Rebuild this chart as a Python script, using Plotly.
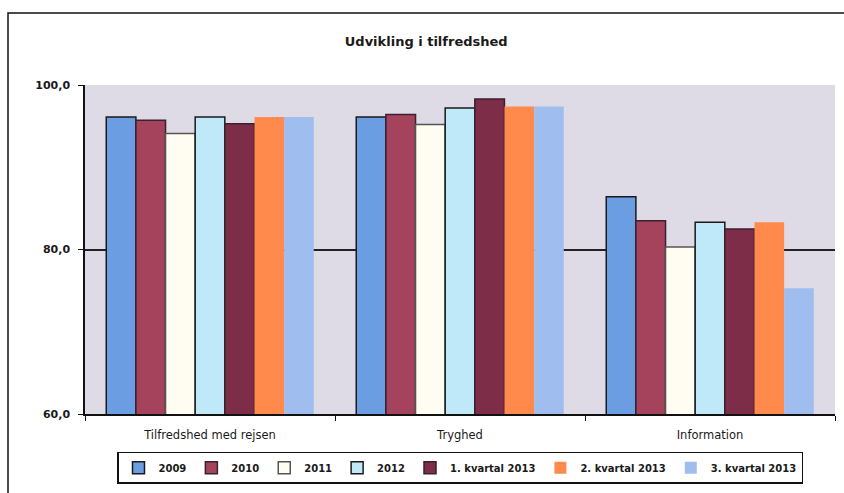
import plotly.graph_objects as go

categories = ["Tilfredshed med rejsen", "Tryghed", "Information"]
series_names = ["2009", "2010", "2011", "2012", "1. kvartal 2013", "2. kvartal 2013", "3. kvartal 2013"]
v2009 = [96.1, 96.1, 86.4]
v2010 = [95.7, 96.4, 83.5]
v2011 = [94.1, 95.2, 80.3]
v2012 = [96.1, 97.2, 83.3]
vq1 = [95.3, 98.3, 82.5]
vq2 = [96.1, 97.4, 83.3]
vq3 = [96.1, 97.4, 75.3]
values = [v2009, v2010, v2011, v2012, vq1, vq2, vq3]
colors = ["#6A9DE2", "#A5425C", "#FFFDF2", "#BFE8F8", "#7E2D48", "#FF8A4C", "#9FBDEE"]
outline = ["#1a1a1a", "#3a2030", "#555555", "#1a1a1a", "#3a2030", "rgba(0,0,0,0)", "rgba(0,0,0,0)"]

fig = go.Figure()
for name, vals, c, oc in zip(series_names, values, colors, outline):
    fig.add_trace(go.Bar(
        x=categories, y=vals, name=name,
        marker=dict(color=c, line=dict(color=oc, width=1.5)),
        base=0,
    ))

font = "DejaVu Sans, Verdana, sans-serif"
fig.update_layout(
    width=844, height=493,
    margin=dict(l=85, r=9, t=85, b=75),
    paper_bgcolor="white",
    plot_bgcolor="#DEDBE7",
    barmode="group",
    bargap=0.17,
    bargroupgap=0,
    separators=",.",
    font=dict(family=font, size=11, color="#1a1a1a"),
    title=dict(text="<b>Udvikling i tilfredshed</b>", x=0.505, xanchor="center",
               y=1 - 41 / 493, yanchor="middle", font=dict(size=13, family=font)),
    showlegend=True,
    legend=dict(orientation="h", x=0.5, xanchor="center", y=-0.115, yanchor="top",
                bordercolor="#111111", borderwidth=1.5, bgcolor="white",
                font=dict(size=10, family=font, weight="bold"), traceorder="normal",
                itemwidth=30, tracegroupgap=0),
    shapes=[dict(type="rect", xref="paper", yref="paper",
                 x0=(8 - 85) / 750, x1=1.05, y0=-0.4, y1=(418 - 12) / 333,
                 line=dict(color="#111111", width=1.5), fillcolor="rgba(0,0,0,0)", layer="below")],
)
fig.update_xaxes(showline=True, linecolor="#111111", linewidth=1.5, ticks="outside",
                 tickson="boundaries", ticklen=5, tickcolor="#111111",
                 ticklabelstandoff=9,
                 tickfont=dict(size=11.5, family=font), showgrid=False)
fig.update_yaxes(range=[60, 100], tickvals=[60, 80, 100], tickformat=".1f",
                 showline=True, linecolor="#111111", linewidth=1.5, ticks="outside",
                 ticklen=5, tickcolor="#111111", gridcolor="#222222", gridwidth=1.5,
                 ticklabelstandoff=6,
                 tickfont=dict(size=11, family=font, weight="bold"), zeroline=False)
fig.write_html("out.html")
